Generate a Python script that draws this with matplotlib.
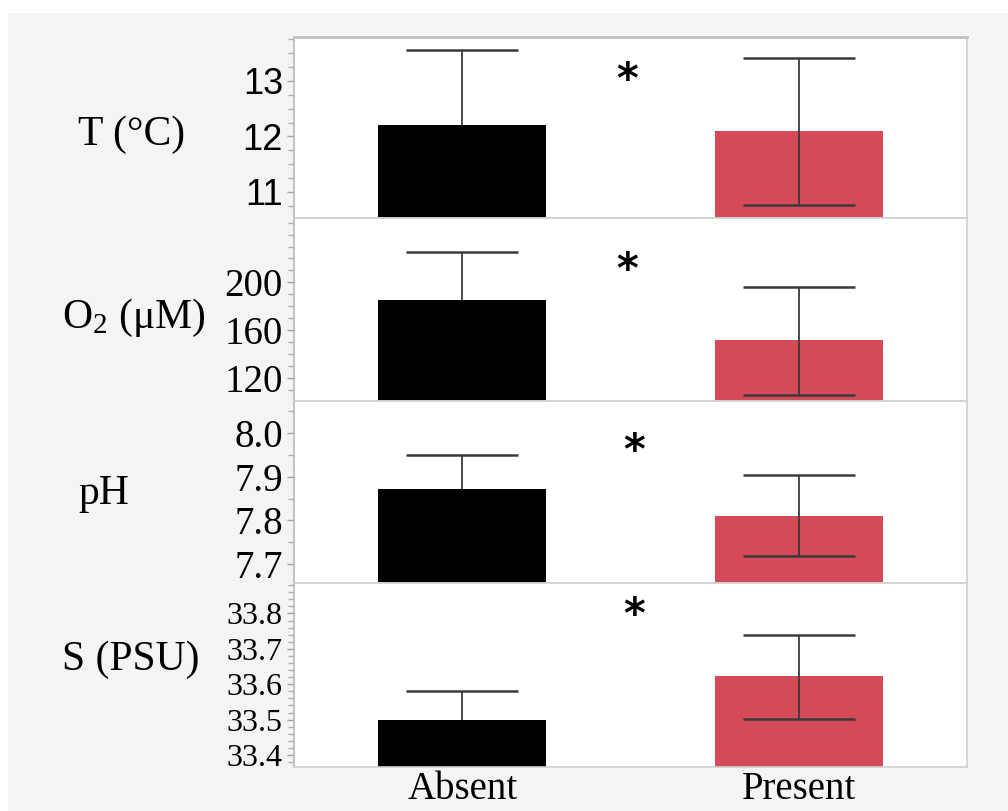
import matplotlib
matplotlib.use("Agg")
import matplotlib.pyplot as plt
from matplotlib.patches import Rectangle
from matplotlib.ticker import MultipleLocator
import numpy as np

plt.rcParams['mathtext.fontset'] = 'custom'
plt.rcParams['mathtext.rm'] = 'Liberation Serif'
plt.rcParams['mathtext.default'] = 'regular'

groups = ["Absent", "Present"]
variables = ["T (°C)", "O$_2$ (μM)", "pH", "S (PSU)"]
means = [[12.20, 12.09], [185.0, 151.5], [7.872, 7.811], [33.50, 33.622]]
upper = [[13.56, 13.41], [225.0, 196.0], [7.949, 7.903], [33.581, 33.740]]
lower = [[None, 10.77], [None, 105.5], [None, 7.718], [None, 33.503]]
ylims = [(10.53, 13.79), (100.5, 253.9), (7.656, 8.074), (33.366, 33.886)]
yticks = [[11, 12, 13], [120, 160, 200], [7.7, 7.8, 7.9, 8.0], [33.4, 33.5, 33.6, 33.7, 33.8]]
ytick_labels = [["11", "12", "13"], ["120", "160", "200"], ["7.7", "7.8", "7.9", "8.0"],
                ["33.4", "33.5", "33.6", "33.7", "33.8"]]
minors = [0.25, 10, 0.05, 0.02]
colors = ["#000000", "#D44A58"]

W, H = 1008, 811
fig = plt.figure(figsize=(W / 100, H / 100), dpi=100, facecolor="white")
fig.patches.append(Rectangle((8 / W, 0), 1 - 8 / W, 1 - 13 / H, transform=fig.transFigure,
                             facecolor="#f4f4f4", edgecolor="none", zorder=-10))

bounds = [(37, 218), (218, 401), (401, 583), (583, 767)]
label_pos = [(78, 135), (62, 318), (78, 494), (62, 660)]
star_pos = [(0.49, 81), (0.49, 271), (0.51, 452), (0.51, 616)]
x = np.arange(len(groups))
cap_half = 1 / 6
left, right = 294 / W, 967 / W
ecol = "#3a3a3a"

for i, (top, bot) in enumerate(bounds):
    ax = fig.add_axes([left, 1 - bot / H, right - left, (bot - top) / H])
    ax.set_facecolor("white")
    ax.bar(x, means[i], width=0.5, color=colors, zorder=2)
    for j in range(len(groups)):
        lo = lower[i][j]
        ylo = lo if lo is not None else means[i][j]
        ax.vlines(x[j], ylo, upper[i][j], color=ecol, lw=1.3, zorder=3)
        ax.hlines(upper[i][j], x[j] - cap_half, x[j] + cap_half, color=ecol, lw=1.8, zorder=3)
        if lo is not None:
            ax.hlines(lo, x[j] - cap_half, x[j] + cap_half, color=ecol, lw=1.8, zorder=3)
    ax.set_xlim(-0.5, 1.5)
    ax.set_ylim(*ylims[i])
    ax.yaxis.set_minor_locator(MultipleLocator(minors[i]))
    ax.set_yticks(yticks[i])
    if i == 0:
        ax.set_yticklabels(ytick_labels[i], family=["Liberation Sans Narrow", "Liberation Sans"],
                           fontsize=26)
    else:
        ax.set_yticklabels(ytick_labels[i], family="Liberation Serif",
                           fontsize=[27, 28, 28, 23][i])
    ax.tick_params(axis="y", which="major", length=5, color="#a0a0a0", width=1, pad=3)
    ax.tick_params(axis="y", which="minor", length=4, color="#b0b0b0", width=1)
    for s in ax.spines.values():
        s.set_color("#d0d0d0")
        s.set_linewidth(1.2)
    ax.spines["left"].set_color("#b8b8b8")
    if i == 0:
        ax.spines["top"].set_color("#c0c0c0")
        ax.spines["top"].set_linewidth(2)
    if i < 3:
        ax.set_xticks([])
    else:
        ax.set_xticks(x)
        ax.set_xticklabels(groups, family="Liberation Serif", fontsize=28)
        ax.tick_params(axis="x", length=0, pad=3)
    fig.text(label_pos[i][0] / W, 1 - label_pos[i][1] / H, variables[i], family="Liberation Serif",
             fontsize=30, ha="left", va="center")
    sx, sy = star_pos[i]
    ax.text(sx, 1 - (sy - top) / (bot - top), "*", transform=ax.get_xaxis_transform(),
            ha="center", va="center", fontsize=30, family="DejaVu Sans", fontweight="bold")

fig.savefig("out.png", dpi=100, facecolor=fig.get_facecolor())
